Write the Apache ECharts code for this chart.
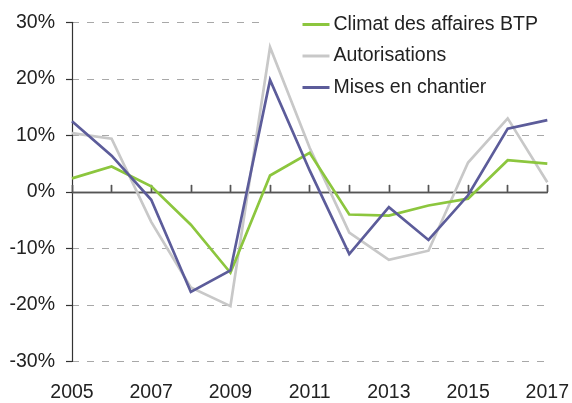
<!DOCTYPE html>
<html>
<head>
<meta charset="utf-8">
<script src="https://cdn.jsdelivr.net/npm/echarts@6/dist/echarts.min.js"></script>
<style>
html,body{margin:0;padding:0;background:#fff;}
#chart{width:572px;height:403px;}
</style>
</head>
<body>
<div id="chart"></div>
<script>
const years = [2005, 2006, 2007, 2008, 2009, 2010, 2011, 2012, 2013, 2014, 2015, 2016, 2017];
const climat = [2.4, 4.5, 1.0, -5.8, -14.3, 2.9, 6.9, -4.0, -4.2, -2.4, -1.2, 5.6, 5.0];
const autorisations = [10.4, 9.4, -5.3, -16.9, -20.2, 25.6, 7.8, -7.2, -12.0, -10.4, 5.2, 13.0, 1.7];
const mises = [12.5, 6.4, -1.4, -17.7, -13.9, 19.8, 3.8, -11.0, -2.7, -8.5, -0.6, 11.2, 12.7];
const seriesNames = ['Climat des affaires BTP', 'Autorisations', 'Mises en chantier'];
const seriesColors = ['#8cc63e', '#c8c8c8', '#5c5c9a'];

const FONT = 'Liberation Sans, Arial, Helvetica, sans-serif';
const FS = 19.5;
const pairs = arr => years.map((y, i) => [y, arr[i]]);

const zeroAxis = (tickInside) => ({
  type: 'value', min: 2005, max: 2017, interval: 1,
  axisLine: { show: true, onZero: true, onZeroAxisIndex: 0, lineStyle: { color: '#555', width: 1.4 } },
  axisTick: { show: true, inside: tickInside, length: 7, lineStyle: { color: '#555', width: 1.4 } },
  axisLabel: { show: false },
  splitLine: { show: false }
});

const chart = echarts.init(document.getElementById('chart'), null, { renderer: 'canvas' });
chart.setOption({
  animation: false,
  backgroundColor: '#fff',
  grid: { left: 72, right: 24.3, top: 22.3, bottom: 41.3, containLabel: false },
  legend: {
    orient: 'vertical',
    left: 262, top: 9.5,
    padding: [5, 40, 5, 40.5],
    backgroundColor: '#fff',
    z: 1,
    icon: 'rect',
    itemWidth: 27, itemHeight: 3,
    itemGap: 11.5,
    textStyle: { fontFamily: FONT, fontSize: FS, color: '#222', lineHeight: 20, padding: [0, 0, 0, -1] },
    data: seriesNames
  },
  xAxis: [
    zeroAxis(true),
    zeroAxis(false),
    {
      type: 'value', min: 2005, max: 2017, interval: 2, position: 'bottom',
      axisLine: { show: false, onZero: false },
      axisTick: { show: false },
      splitLine: { show: false },
      axisLabel: { show: true, margin: 22, fontFamily: FONT, fontSize: FS, color: '#222', lineHeight: 19, formatter: v => String(v) }
    }
  ],
  yAxis: {
    type: 'value', min: -30, max: 30, interval: 10,
    axisLine: { show: true, onZero: false, lineStyle: { color: '#333', width: 1.2 } },
    axisTick: { show: true, length: 6, lineStyle: { color: '#333', width: 1.2 } },
    axisLabel: { margin: 17, fontFamily: FONT, fontSize: FS, color: '#222', formatter: '{value}%' },
    splitLine: {
      show: true,
      lineStyle: { color: '#a8a8a8', width: 1.1, type: [7, 8] }
    }
  },
  series: [climat, autorisations, mises].map((arr, i) => ({
    name: seriesNames[i],
    type: 'line',
    xAxisIndex: 0,
    data: pairs(arr),
    symbol: 'none',
    z: i === 1 ? 2 : (i === 0 ? 3 : 4),
    color: seriesColors[i],
    lineStyle: { color: seriesColors[i], width: 2.7, join: 'miter' }
  }))
});
</script>
</body>
</html>
